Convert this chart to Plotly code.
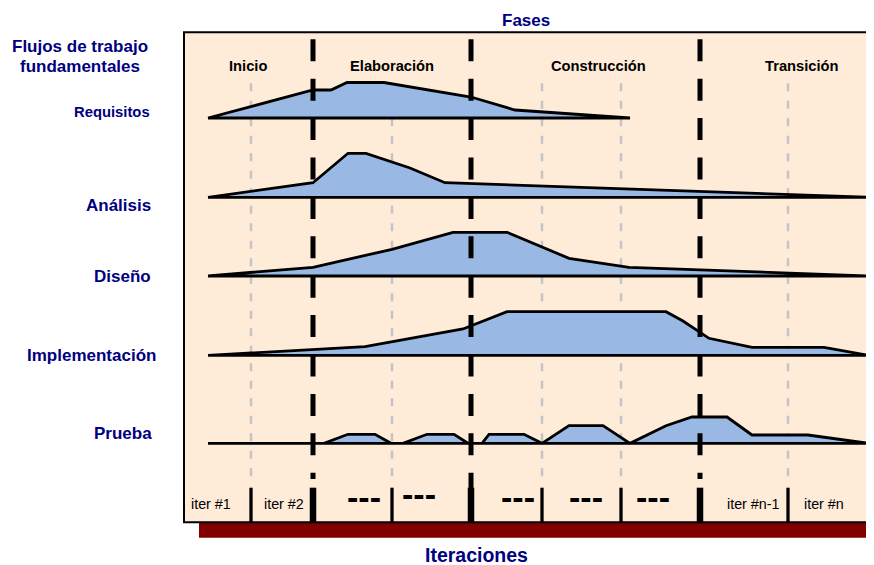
import plotly.graph_objects as go

# ---------------- data (time axis along x, effort height above each baseline) ----------------
phase_names = ["Inicio", "Elaboración", "Construcción", "Transición"]
phase_label_x = [248, 392, 598, 801]
phase_bounds = [313, 471, 700]
iter_bounds = [251, 313, 392, 471, 542, 621, 700, 788]
iter_labels = ["iter #1", "iter #2", "---", "---", "---", "---", "---", "iter #n-1", "iter #n"]
iter_label_x = [211, 284, 364, 419, 518, 586, 653, 753, 824]

workflows = ["Requisitos", "Análisis", "Diseño", "Implementación", "Prueba"]
baselines = [118, 197.3, 276, 355.3, 443.3]

req_x = [208, 313, 331, 347, 384, 471, 515, 630]
req_h = [0, 28, 28, 35.5, 35.5, 21, 8, 0]

ana_x = [208, 313, 348, 366, 410, 445, 868]
ana_h = [0, 14.6, 44, 44, 29.3, 14.6, 0]

dis_x = [208, 313, 392, 453, 507, 569, 629, 868]
dis_h = [0, 8.7, 26.7, 43.7, 43.7, 17.7, 8.7, 0]

imp_x = [208, 365, 463, 507, 666, 683, 709, 752, 824, 868]
imp_h = [0, 8.6, 26.3, 43.6, 43.6, 34.3, 17, 8, 8, 0]

pru_x = [208, 324, 348, 375, 391, 403, 427, 454, 468, 482, 489, 524, 542,
         569, 603, 630, 666, 692, 727, 752, 808, 868]
pru_h = [0, 0, 9, 9, 0, 0, 9, 9, 0, 0, 9, 9, 0,
         17.6, 17.6, 0, 17.6, 26.3, 26.3, 8.3, 8.3, 0]

series_x = [req_x, ana_x, dis_x, imp_x, pru_x]
series_h = [req_h, ana_h, dis_h, imp_h, pru_h]

# ---------------- styles ----------------
FONT = "Arial, 'Liberation Sans', sans-serif"
NAVY = "#000080"
PANEL = "#FEEBD8"
SHADOW = "#800000"
FILL = "#99B8E3"

PANEL_X0, PANEL_X1, PANEL_Y0, PANEL_Y1 = 184, 870.5, 32.3, 522.3
PAGE_MARGIN = 8  # default body margin of the html page

fig = go.Figure()

for xs, hs, base in zip(series_x, series_h, baselines):
    ys = [base - h for h in hs]
    fig.add_trace(go.Scatter(
        x=xs + [xs[0]], y=ys + [base],
        mode="lines", fill="toself", fillcolor=FILL,
        line=dict(color="black", width=2.8),
        hoverinfo="skip", showlegend=False,
    ))

shapes = []
shapes.append(dict(type="rect", xref="x", yref="y", x0=199, x1=890, y0=45, y1=537.7,
                   fillcolor=SHADOW, line=dict(width=0), layer="below"))
shapes.append(dict(type="rect", xref="x", yref="y", x0=PANEL_X0, x1=PANEL_X1, y0=PANEL_Y0, y1=PANEL_Y1,
                   fillcolor=PANEL, line=dict(color="black", width=2), layer="below"))

for xb in iter_bounds:
    if xb in phase_bounds:
        continue
    shapes.append(dict(type="line", xref="x", yref="y", x0=xb, x1=xb, y0=83.3, y1=477.5,
                       line=dict(color="#C4C4C4", width=2.5, dash="8px,9.5px"), layer="below"))

for i, xb in enumerate(phase_bounds):
    yend = 488 if i == 1 else 479
    shapes.append(dict(type="line", xref="x", yref="y", x0=xb, x1=xb, y0=39.3, y1=yend,
                       line=dict(color="black", width=5, dash="22px,17.4px"), layer="above"))

for xb in iter_bounds:
    w = 6.5 if xb in phase_bounds else 3.3
    shapes.append(dict(type="line", xref="x", yref="y", x0=xb, x1=xb, y0=487.7, y1=PANEL_Y1,
                       line=dict(color="black", width=w), layer="above"))

ann = []
def txt(x, y, s, size, color="black", bold=True, xanchor="center"):
    ann.append(dict(x=x, y=y, xref="x", yref="y", text=("<b>%s</b>" % s) if bold else s,
                    showarrow=False, xanchor=xanchor, yanchor="middle",
                    font=dict(family=FONT, size=size, color=color)))

txt(526, 20, "Fases", 17, NAVY)
txt(80.3, 46.7, "Flujos de trabajo", 17, NAVY)
txt(80, 66, "fundamentales", 17, NAVY)
txt(476, 555, "Iteraciones", 19.5, NAVY)

for name, xl in zip(phase_names, phase_label_x):
    txt(xl, 66, name, 14.7)

wf_right = [151.7, 153.3, 153.3, 157.7, 154]
wf_y = [112.3, 205, 276, 355, 433.3]
wf_size = [14.8, 17, 17, 17, 17]
for name, xr, yy, sz in zip(workflows, wf_right, wf_y, wf_size):
    txt(xr, yy, name, sz, NAVY, xanchor="right")

iter_label_y = [504.3, 504.3, 497, 494, 497, 497, 497, 504.3, 504.3]
for lab, xl, yl in zip(iter_labels, iter_label_x, iter_label_y):
    if lab == "---":
        txt(xl, yl, lab, 34)
    else:
        txt(xl, yl, lab, 14.3, bold=False)

W, H = 874, 565
fig.update_layout(
    width=W - PAGE_MARGIN, height=H - PAGE_MARGIN,
    margin=dict(l=0, r=0, t=0, b=0),
    paper_bgcolor="white", plot_bgcolor="white",
    xaxis=dict(range=[PAGE_MARGIN, W], visible=False, fixedrange=True),
    yaxis=dict(range=[H, PAGE_MARGIN], visible=False, fixedrange=True),
    shapes=shapes, annotations=ann, showlegend=False,
)

fig.write_html("out.html")
